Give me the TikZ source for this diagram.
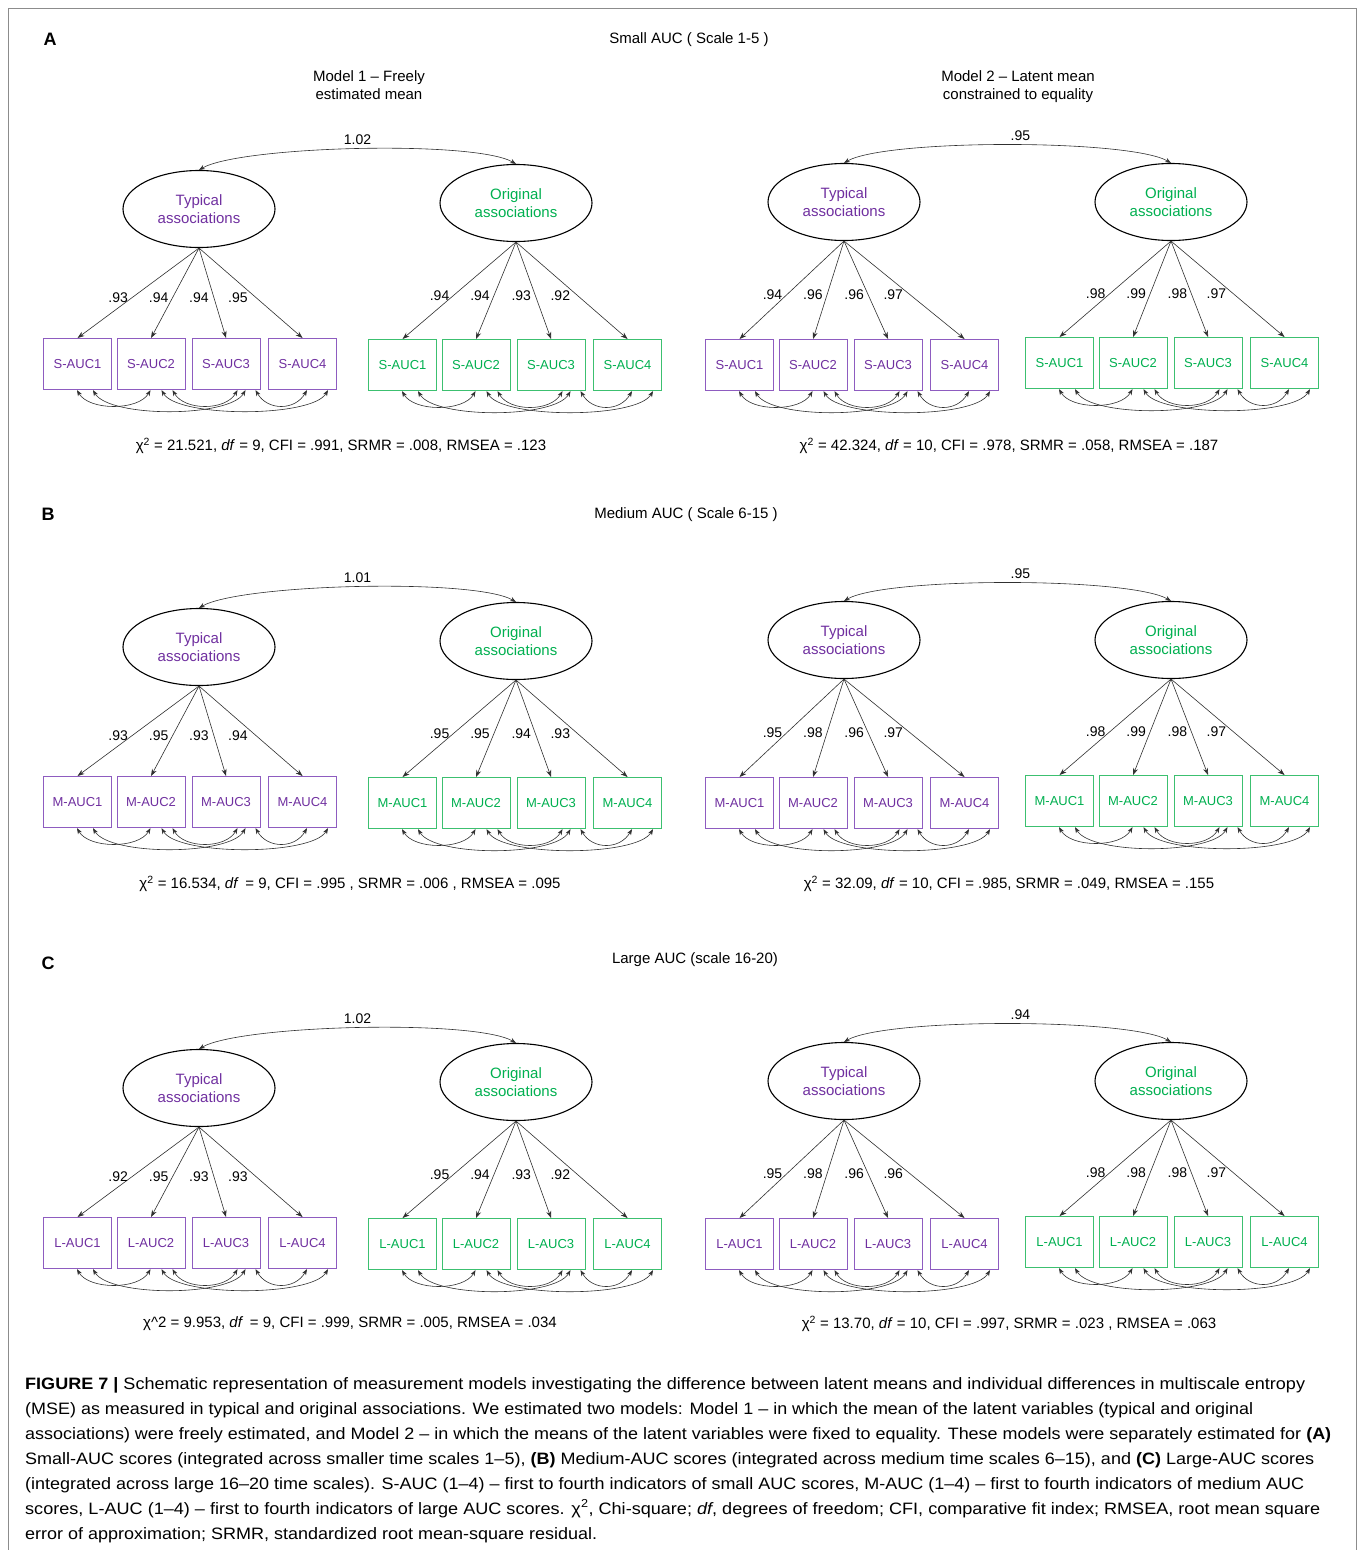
\documentclass[tikz,border=0pt]{standalone}
\usepackage{fontspec}
\setmainfont{Liberation Sans}
\usepackage{graphicx}
\usetikzlibrary{shapes.geometric,arrows.meta}
\definecolor{pur}{HTML}{7030A0}
\definecolor{purbd}{HTML}{8E5CC0}
\definecolor{grn}{HTML}{00B050}
\definecolor{grnbd}{HTML}{3CC070}
\definecolor{lnc}{HTML}{303030}
\tikzset{
  latent/.style={ellipse, draw=black, line width=1.1pt, minimum width=152pt, minimum height=77pt,
    inner sep=0pt, align=center, font=\fontsize{15}{18}\selectfont},
  obs/.style={rectangle, draw=#1bd, text=#1, line width=1.1pt, minimum width=68pt, minimum height=51pt,
    inner sep=0pt, font=\fontsize{13}{15}\selectfont},
  load/.style={draw=lnc, line width=0.6pt, -{Stealth[length=7pt,width=5pt]}},
  cov/.style={draw=lnc, line width=0.6pt, {Stealth[length=6pt,width=4.5pt]}-{Stealth[length=6pt,width=4.5pt]}},
  lbl/.style={font=\fontsize{14}{15}\selectfont, inner sep=1pt, text=black},
  rlbl/.style={lbl, above, yshift=3pt},
  ttl/.style={font=\fontsize{15}{18}\selectfont, inner sep=0pt, anchor=base},
  plet/.style={font=\fontsize{18}{20}\selectfont\bfseries, inner sep=0pt},
  fitst/.style={font=\fontsize{15}{17}\selectfont, inner sep=0pt},
  capl/.style={anchor=base west, inner sep=0pt, font=\fontsize{16.5}{20}\selectfont},
  framel/.style={draw=black!45, line width=1pt}
}
% #1 id, #2 ellipse x, #3 ellipse y, #4 word, #5 colour, #6 first box left, #7 box top, #8 prefix, #9 loadings
\newcommand{\cfa}[9]{%
  \node[latent, text=#5] (#1) at ({#2},{-(#3)}) {#4\\associations};
  \foreach \k/\dx in {1/0,2/73.5,3/148.5,4/225}
    \node[obs=#5, anchor=north west] (#1b\k) at ({#6+\dx},{-(#7)}) {#8-AUC\k};
  \foreach \k/\l/\xs in {#9}
    \draw[load] (#1.south) -- node[lbl, pos=.55, anchor=east, xshift=\xs] {\l} (#1b\k.north);
  \draw[cov] ([xshift=34pt]#1b1.south west) .. controls +(-60:24) and +(-120:24) .. ([xshift=34pt]#1b2.south west);
  \draw[cov] ([xshift=50pt]#1b1.south west) .. controls +(-60:32) and +(-120:32) .. ([xshift=54pt]#1b3.south west);
  \draw[cov] ([xshift=45pt]#1b2.south west) .. controls +(-60:32) and +(-120:32) .. ([xshift=60pt]#1b4.south west);
  \draw[cov] ([xshift=56pt]#1b2.south west) .. controls +(-60:24) and +(-120:24) .. ([xshift=46pt]#1b3.south west);
  \draw[cov] ([xshift=64pt]#1b3.south west) .. controls +(-60:24) and +(-120:24) .. ([xshift=39pt]#1b4.south west);
}
\begin{document}
\begin{tikzpicture}[x=1pt,y=1pt]
\useasboundingbox (0,0) rectangle (1360,-1550);
\fill[white] (0,0) rectangle (1360,-1550);
\draw[framel] (8,-1552) -- (8,-8) -- (1356,-8) -- (1356,-1552);

% ---------------- Panel A ----------------
\node[plet] (Alet) at (50,-39) {A};
\node[ttl] (Atitle) at (689,-43) {Small AUC ( Scale 1-5 )};
\node[ttl] (Ahd1a) at (369,-81) {Model 1 – Freely};
\node[ttl] (Ahd1b) at (369,-99) {estimated mean};
\node[ttl] (Ahd2a) at (1018,-81) {Model 2 – Latent mean};
\node[ttl] (Ahd2b) at (1018,-99) {constrained to equality};
\cfa{A1t}{199}{209}{Typical}{pur}{43}{338}{S}{1/.93/-3pt,2/.94/-3pt,3/.94/-4pt,4/.95/-7pt}
\cfa{A1o}{516}{203}{Original}{grn}{368}{339}{S}{1/.94/-3pt,2/.94/-3pt,3/.93/-3pt,4/.92/-6pt}
\cfa{A2t}{844}{202}{Typical}{pur}{705}{339}{S}{1/.94/-3pt,2/.96/-3pt,3/.96/-3pt,4/.97/-6pt}
\cfa{A2o}{1171}{202}{Original}{grn}{1025}{337}{S}{1/.98/-3pt,2/.99/-3pt,3/.98/-3pt,4/.97/-6pt}
\draw[cov] (A1t.north) .. controls +(30:48) and +(150:48) .. node[rlbl, pos=.5] (A1r) {1.02} (A1o.north);
\draw[cov] (A2t.north) .. controls +(30:48) and +(150:48) .. node[rlbl, pos=.53] (A2r) {.95} (A2o.north);
\node[fitst] (A1fit) at (341,-446) {χ\textsuperscript{2} = 21.521, \textit{df} = 9, CFI = .991, SRMR = .008, RMSEA = .123};
\node[fitst] (A2fit) at (1009,-446) {χ\textsuperscript{2} = 42.324, \textit{df} = 10, CFI = .978, SRMR = .058, RMSEA = .187};

% ---------------- Panel B ----------------
\begin{scope}[yshift=-438pt]
\node[plet] (Blet) at (48,-76) {B};
\node[ttl] (Btitle) at (686,-80) {Medium AUC ( Scale 6-15 )};
\cfa{B1t}{199}{209}{Typical}{pur}{43}{338}{M}{1/.93/-3pt,2/.95/-3pt,3/.93/-4pt,4/.94/-7pt}
\cfa{B1o}{516}{203}{Original}{grn}{368}{339}{M}{1/.95/-3pt,2/.95/-3pt,3/.94/-3pt,4/.93/-6pt}
\cfa{B2t}{844}{202}{Typical}{pur}{705}{339}{M}{1/.95/-3pt,2/.98/-3pt,3/.96/-3pt,4/.97/-6pt}
\cfa{B2o}{1171}{202}{Original}{grn}{1025}{337}{M}{1/.98/-3pt,2/.99/-3pt,3/.98/-3pt,4/.97/-6pt}
\draw[cov] (B1t.north) .. controls +(30:48) and +(150:48) .. node[rlbl, pos=.5] (B1r) {1.01} (B1o.north);
\draw[cov] (B2t.north) .. controls +(30:48) and +(150:48) .. node[rlbl, pos=.53] (B2r) {.95} (B2o.north);
\node[fitst] (B1fit) at (350,-446) {χ\textsuperscript{2} = 16.534, \textit{df}\, = 9, CFI = .995 , SRMR = .006 , RMSEA = .095};
\node[fitst] (B2fit) at (1009,-446) {χ\textsuperscript{2} = 32.09, \textit{df} = 10, CFI = .985, SRMR = .049, RMSEA = .155};
\end{scope}

% ---------------- Panel C ----------------
\begin{scope}[yshift=-879pt]
\node[plet] (Clet) at (48,-84) {C};
\node[ttl] (Ctitle) at (695,-84) {Large AUC (scale 16-20)};
\cfa{C1t}{199}{209}{Typical}{pur}{43}{338}{L}{1/.92/-3pt,2/.95/-3pt,3/.93/-4pt,4/.93/-7pt}
\cfa{C1o}{516}{203}{Original}{grn}{368}{339}{L}{1/.95/-3pt,2/.94/-3pt,3/.93/-3pt,4/.92/-6pt}
\cfa{C2t}{844}{202}{Typical}{pur}{705}{339}{L}{1/.95/-3pt,2/.98/-3pt,3/.96/-3pt,4/.96/-6pt}
\cfa{C2o}{1171}{202}{Original}{grn}{1025}{337}{L}{1/.98/-3pt,2/.98/-3pt,3/.98/-3pt,4/.97/-6pt}
\draw[cov] (C1t.north) .. controls +(30:48) and +(150:48) .. node[rlbl, pos=.5] (C1r) {1.02} (C1o.north);
\draw[cov] (C2t.north) .. controls +(30:48) and +(150:48) .. node[rlbl, pos=.53] (C2r) {.94} (C2o.north);
\node[fitst] (C1fit) at (350,-445) {χ\textasciicircum 2 = 9.953, \textit{df}\, = 9, CFI = .999, SRMR = .005, RMSEA = .034};
\node[fitst] (C2fit) at (1009,-445) {χ\textsuperscript{2} = 13.70, \textit{df} = 10, CFI = .997, SRMR = .023 , RMSEA = .063};
\end{scope}

% ---------------- Caption ----------------
\node[capl] (cap1) at (25,-1389) {\resizebox{1280pt}{\height}{\textbf{FIGURE 7 |} Schematic representation of measurement models investigating the difference between latent means and individual differences in multiscale entropy}};
\node[capl] (cap2) at (25,-1414) {\resizebox{1228pt}{\height}{(MSE) as measured in typical and original associations. We estimated two models: Model 1 – in which the mean of the latent variables (typical and original}};
\node[capl] (cap3) at (25,-1439) {\resizebox{1306pt}{\height}{associations) were freely estimated, and Model 2 – in which the means of the latent variables were fixed to equality. These models were separately estimated for \textbf{(A)}}};
\node[capl] (cap4) at (25,-1464) {\resizebox{1289pt}{\height}{Small-AUC scores (integrated across smaller time scales 1–5), \textbf{(B)} Medium-AUC scores (integrated across medium time scales 6–15), and \textbf{(C)} Large-AUC scores}};
\node[capl] (cap5) at (25,-1489) {\resizebox{1279pt}{\height}{(integrated across large 16–20 time scales). S-AUC (1–4) – first to fourth indicators of small AUC scores, M-AUC (1–4) – first to fourth indicators of medium AUC}};
\node[capl] (cap6) at (25,-1514) {\resizebox{1295pt}{\height}{scores, L-AUC (1–4) – first to fourth indicators of large AUC scores. χ\textsuperscript{2}, Chi-square; \textit{df}, degrees of freedom; CFI, comparative fit index; RMSEA, root mean square}};
\node[capl] (cap7) at (25,-1539) {\resizebox{572pt}{\height}{error of approximation; SRMR, standardized root mean-square residual.}};
\end{tikzpicture}
\end{document}
